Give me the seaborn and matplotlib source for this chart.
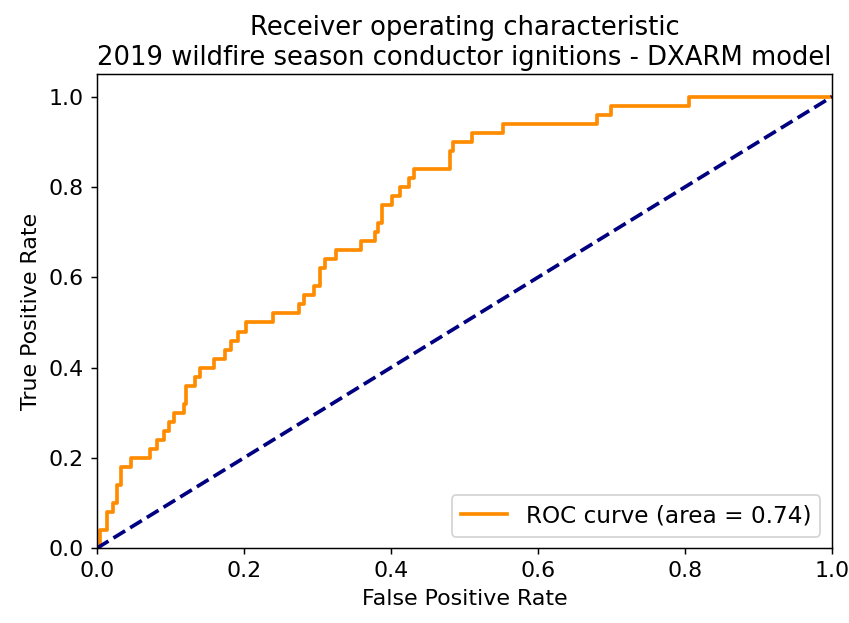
import numpy as np
import matplotlib
matplotlib.use("Agg")
import matplotlib.pyplot as plt
import seaborn as sns

# ROC curve: fpr where tpr jumps, and the new tpr
fpr = [0.000, 0.005, 0.014, 0.022, 0.027, 0.033, 0.047, 0.072, 0.082, 0.092,
       0.098, 0.105, 0.118, 0.122, 0.133, 0.141, 0.160, 0.175, 0.183, 0.192,
       0.203, 0.240, 0.275, 0.282, 0.296, 0.304, 0.310, 0.325, 0.360, 0.378,
       0.383, 0.388, 0.402, 0.412, 0.424, 0.432, 0.480, 0.485, 0.510, 0.552,
       0.680, 0.700, 0.806, 1.000]
tpr = [0.000, 0.040, 0.080, 0.100, 0.140, 0.180, 0.200, 0.220, 0.240, 0.260,
       0.280, 0.300, 0.320, 0.360, 0.380, 0.400, 0.420, 0.440, 0.460, 0.480,
       0.500, 0.520, 0.540, 0.560, 0.580, 0.620, 0.640, 0.660, 0.680, 0.700,
       0.720, 0.760, 0.780, 0.800, 0.820, 0.840, 0.880, 0.900, 0.920, 0.940,
       0.960, 0.980, 1.000, 1.000]
roc_auc = 0.74

plt.rcParams['font.size'] = 12

fig = plt.figure(figsize=(849 / 133, 623 / 133), dpi=133)
ax = fig.add_subplot(111)
fig.subplots_adjust(left=0.114, right=0.980, top=0.881, bottom=0.120)

sns.lineplot(x=fpr, y=tpr, ax=ax, color='darkorange', lw=2,
             drawstyle='steps-post', estimator=None, sort=False,
             label='ROC curve (area = %0.2f)' % roc_auc)
ax.plot([0, 1], [0, 1], color='navy', lw=2, linestyle='--')

ax.set_xlim([0.0, 1.0])
ax.set_ylim([0.0, 1.05])
ax.set_xlabel('False Positive Rate', fontsize=12)
ax.set_ylabel('True Positive Rate', fontsize=12)
ax.set_title('Receiver operating characteristic\n'
             '2019 wildfire season conductor ignitions - DXARM model',
             fontsize=14, pad=5)
ax.tick_params(labelsize=12)
ax.legend(loc='lower right', fontsize=12.5)

fig.savefig('out.png', dpi=133)
